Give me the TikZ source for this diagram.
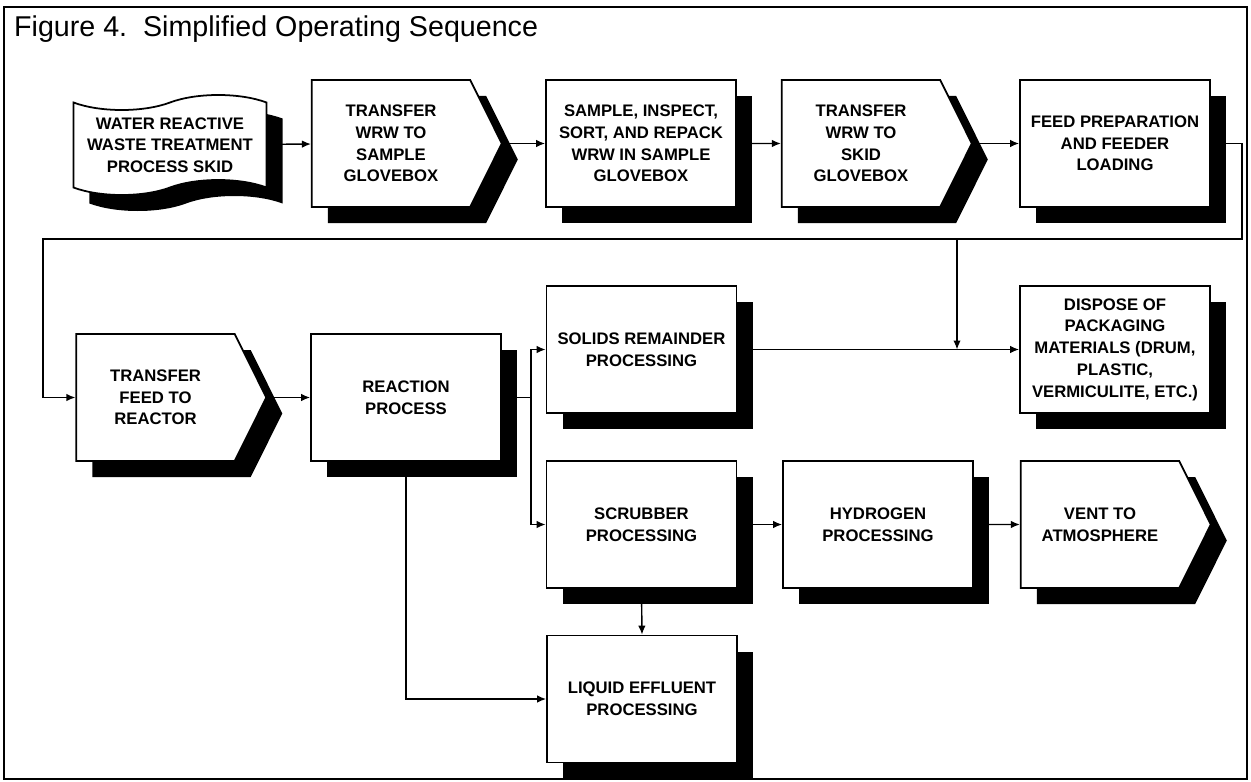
\documentclass[tikz,border=0pt]{standalone}
\usepackage{fontspec}
\setmainfont{Liberation Sans}
\usetikzlibrary{shadows,shapes.symbols,arrows.meta,positioning}

\newcommand{\boxfont}{\fontsize{9.5}{12.35}\selectfont\bfseries}
\tikzset{
  proc/.style={draw, line width=1pt, fill=white, minimum width=38mm, minimum height=25.4mm,
    align=center, font=\boxfont, inner sep=1pt,
    drop shadow={shadow xshift=3.2mm, shadow yshift=-3.2mm, fill=black, opacity=1}},
  move/.style={proc, signal, signal to=east, signal pointer angle=127},
  tapebox/.style={proc, tape, minimum height=20mm, minimum width=38.6mm, tape bend height=3mm},
  flow/.style={line width=0.8pt, -{Latex[length=1.8mm,width=1.5mm]}},
  link/.style={line width=0.8pt}
}

\begin{document}
\begin{tikzpicture}[x=0.2mm, y=-0.2mm]
\useasboundingbox (0,0) rectangle (1251,782);
\draw[line width=1pt] (4,7) rectangle (1247,779);
\node[anchor=base west, font=\fontsize{16.3}{19}\selectfont] (ttl) at (8,37) {Figure 4.\ \ Simplified Operating Sequence};

%row 1
\node[tapebox] (src) at (170,145) {WATER REACTIVE\\WASTE TREATMENT\\PROCESS SKID};
\node[move] (tsg) at (391,143.5) {TRANSFER\\WRW TO\\SAMPLE\\GLOVEBOX};
\node[proc] (sis) at (641,143.5) {SAMPLE, INSPECT,\\SORT, AND REPACK\\WRW IN SAMPLE\\GLOVEBOX};
\node[move] (tsk) at (861,143.5) {TRANSFER\\WRW TO\\SKID\\GLOVEBOX};
\node[proc] (fpl) at (1115,143.5) {FEED PREPARATION\\AND FEEDER\\LOADING};

%row 2
\node[move] (tfr) at (155.5,397.5) {TRANSFER\\FEED TO\\REACTOR};
\node[proc] (rxn) at (406,397.5) {REACTION\\PROCESS};
\node[proc] (sol) at (641.5,349.5) {SOLIDS REMAINDER\\PROCESSING};
\node[proc] (dsp) at (1115,349.5) {DISPOSE OF\\PACKAGING\\MATERIALS (DRUM,\\PLASTIC,\\VERMICULITE, ETC.)};

%row 3
\node[proc] (scr) at (641.5,524.5) {SCRUBBER\\PROCESSING};
\node[proc] (hyd) at (878,524.5) {HYDROGEN\\PROCESSING};
\node[move] (vnt) at (1100,524.5) {VENT TO\\ATMOSPHERE};

%row 4
\node[proc] (liq) at (642,699) {LIQUID EFFLUENT\\PROCESSING};

%connectors
\coordinate (rt) at (1242,239);
\coordinate (lt) at (43,239);
\coordinate (jn) at (957,239);
\coordinate (br) at (531,397.5);

\draw[flow] (src) -- (tsg);
\draw[flow] (tsg.east) -- (sis);
\draw[flow] (sis) -- (tsk);
\draw[flow] (tsk.east) -- (fpl);
\draw[flow] (fpl.east) -| (rt) -- (lt) |- (tfr.west);
\draw[flow] (jn) -- (jn |- sol.east);
\draw[flow] (sol.east) -- (dsp.west);
\draw[flow] (tfr.east) -- (rxn.west);
\draw[link] (rxn.east) -- (br);
\draw[flow] (br) |- (sol.west);
\draw[flow] (br) |- (scr.west);
\draw[flow] (scr) -- (hyd);
\draw[flow] (hyd) -- (vnt);
\draw[flow] (scr.south) -- (liq.north);
\draw[flow] (rxn.south) |- (liq.west);
\end{tikzpicture}
\end{document}
